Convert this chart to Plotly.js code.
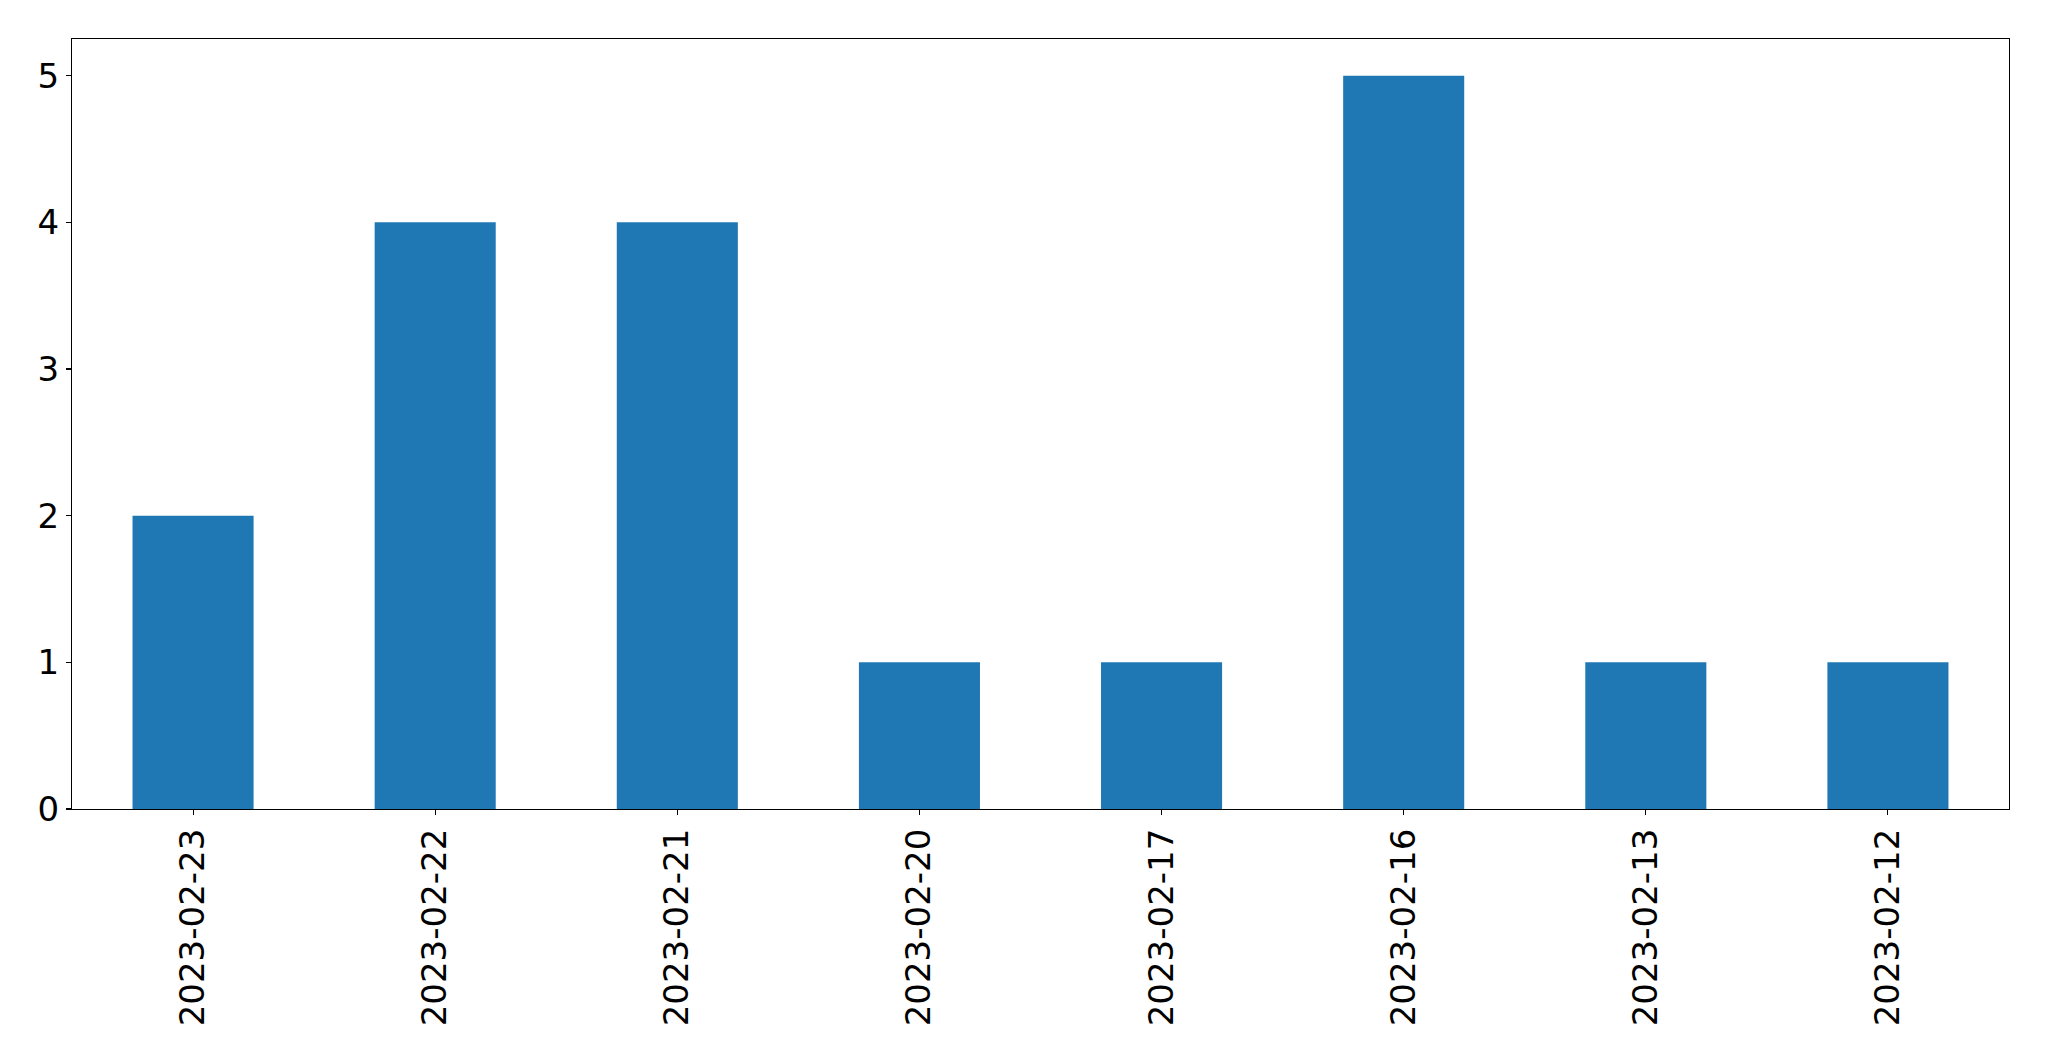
<!DOCTYPE html>
<html>
<head>
<meta charset="utf-8">
<script src="https://cdn.plot.ly/plotly-3.0.1.min.js"></script>
<style>
  html, body { margin: 0; padding: 0; background: #ffffff; }
  #chart { width: 2049px; height: 1061px; }
</style>
</head>
<body>
<div id="chart"></div>
<script>
const dates = ["2023-02-23", "2023-02-22", "2023-02-21", "2023-02-20", "2023-02-17", "2023-02-16", "2023-02-13", "2023-02-12"];
const counts = [2, 4, 4, 1, 1, 5, 1, 1];
const yTicks = [0, 1, 2, 3, 4, 5];

const trace = {
  type: "bar",
  x: dates,
  y: counts,
  width: 0.5,
  marker: { color: "#1f77b4", line: { width: 0 } },
  hoverinfo: "x+y"
};

const fontFamily = "DejaVu Sans, sans-serif";

const layout = {
  width: 2049,
  height: 1061,
  margin: { l: 72, r: 40, t: 39, b: 252, pad: 0 },
  paper_bgcolor: "#ffffff",
  plot_bgcolor: "#ffffff",
  showlegend: false,
  font: { family: fontFamily, size: 34, color: "#000000" },
  xaxis: {
    type: "category",
    range: [-0.5, dates.length - 0.5],
    tickangle: -90,
    ticks: "outside",
    ticklen: 5,
    tickwidth: 1.1,
    tickcolor: "#000000",
    showline: true,
    linecolor: "#000000",
    linewidth: 1.1,
    mirror: true,
    showgrid: false,
    zeroline: false,
    tickfont: { family: fontFamily, size: 34, color: "#000000" },
    ticklabelstandoff: 0
  },
  yaxis: {
    range: [0, 5.25],
    tickmode: "array",
    tickvals: yTicks,
    ticktext: yTicks.map(String),
    ticks: "outside",
    ticklen: 5,
    tickwidth: 1.1,
    tickcolor: "#000000",
    showline: true,
    linecolor: "#000000",
    linewidth: 1.1,
    mirror: true,
    showgrid: false,
    zeroline: false,
    tickfont: { family: fontFamily, size: 34, color: "#000000" },
    ticklabelstandoff: 0
  }
};

Plotly.newPlot("chart", [trace], layout, { displayModeBar: false, staticPlot: true });
</script>
</body>
</html>
